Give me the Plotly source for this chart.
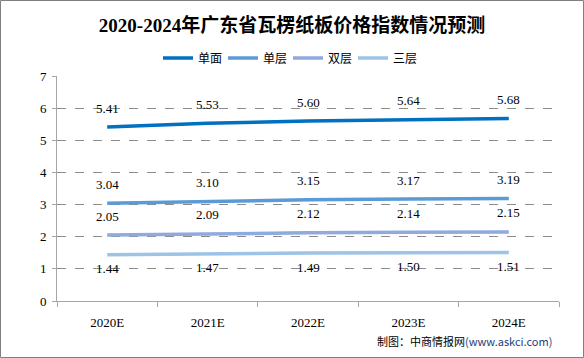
import plotly.graph_objects as go

categories = ["2020E", "2021E", "2022E", "2023E", "2024E"]
series_names = ["单面", "单层", "双层", "三层"]
danmian = [5.41, 5.53, 5.60, 5.64, 5.68]
danceng = [3.04, 3.10, 3.15, 3.17, 3.19]
shuangceng = [2.05, 2.09, 2.12, 2.14, 2.15]
sanceng = [1.44, 1.47, 1.49, 1.50, 1.51]
colors = ["#0070C0", "#5B9BD5", "#8FAADC", "#9DC3E6"]
y_ticks = [0, 1, 2, 3, 4, 5, 6, 7]

W, H = 584, 358
ML, MR, MT, MB = 57, 25, 76, 57
PW, PH = W - ML - MR, H - MT - MB

serif = "SimSun, 'Liberation Serif', 'Noto Sans CJK SC', serif"

fig = go.Figure()
all_vals = [danmian, danceng, shuangceng, sanceng]
shifts = [19, 19, 19, -14]
for name, vals, col, sh in zip(series_names, all_vals, colors, shifts):
    fig.add_trace(go.Scatter(
        x=categories, y=vals, name=name, mode="lines",
        line=dict(color=col, width=3.5),
    ))
    for c, v in zip(categories, vals):
        fig.add_annotation(x=c, y=v, text=f"{v:.2f}", showarrow=False,
                           yshift=sh, xanchor="center", yanchor="middle",
                           font=dict(family=serif, size=13, color="#000000"))

fig.update_layout(
    width=W, height=H,
    margin=dict(l=ML, r=MR, t=MT, b=MB),
    paper_bgcolor="white", plot_bgcolor="white",
    title=dict(text="<b>2020-2024年广东省瓦楞纸板价格指数情况预测</b>",
               x=0.5, xanchor="center", y=1 - 25 / H, yanchor="middle",
               font=dict(family="'Liberation Serif', 'Noto Sans CJK SC', serif", size=19, color="#000000")),
    legend=dict(orientation="h", x=0.5 - 20 / PW, xanchor="center", y=1 + 18 / PH, yanchor="middle",
                font=dict(family="'Noto Sans CJK SC', sans-serif", size=12, color="#000000"),
                itemwidth=30, entrywidth=20, entrywidthmode="pixels",
                tracegroupgap=0, bgcolor="rgba(0,0,0,0)"),
    showlegend=True,
    xaxis=dict(type="category", tickson="boundaries", ticks="outside", ticklen=5,
               tickcolor="#A6A6A6", showline=True, linecolor="#A6A6A6", linewidth=1,
               showgrid=False, tickfont=dict(family=serif, size=13, color="#000000"),
               ticklabelstandoff=9, range=[-0.5, 4.5]),
    yaxis=dict(range=[0, 7], tickvals=y_ticks, ticks="outside", ticklen=4, tickcolor="#A6A6A6",
               showline=True, linecolor="#A6A6A6", linewidth=1,
               showgrid=True, gridcolor="#8C8C8C", griddash="dash", gridwidth=1,
               zeroline=False, ticklabelstandoff=3,
               tickfont=dict(family=serif, size=13, color="#000000")),
)

fig.add_annotation(
    text="制图：中商情报网<span style='color:#1F3D7A'>(www.askci.com)</span>",
    xref="paper", yref="paper", x=(554 - ML) / PW, y=-(341 - MT - PH) / PH,
    xanchor="right", yanchor="middle", showarrow=False,
    font=dict(family="'Noto Sans CJK SC', sans-serif", size=11, color="#000000"),
)

fig.add_shape(type="rect", xref="paper", yref="paper",
              x0=(0.5 - ML) / PW, x1=(W - 0.5 - ML) / PW,
              y0=-(H - 0.5 - MT - PH) / PH, y1=1 + (MT - 0.5) / PH,
              line=dict(color="#7F7F7F", width=1), layer="above")

fig.write_html("out.html")
